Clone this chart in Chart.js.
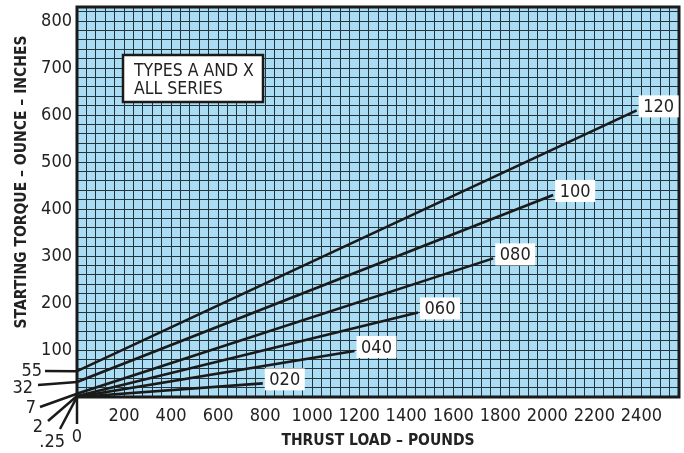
<!DOCTYPE html>
<html>
<head>
<meta charset="utf-8">
<script src="https://cdn.jsdelivr.net/npm/chart.js@4.4.1/dist/chart.umd.min.js"></script>
<style>
  html, body { margin: 0; padding: 0; background: #fff; }
</style>
</head>
<body>
<canvas id="chart" width="684" height="453"></canvas>
<script>
// Series (unit sizes) - each one is a straight line from its start torque to its end point
const seriesNames = ["120", "100", "080", "060", "040", "020"];
const startTorque = [55, 32, 7, 2, 0.25, 0];
const startLabels = ["55", "32", "7", "2", ".25", "0"];
const endLoad = [2380, 2025, 1770, 1450, 1180, 790];
const endTorque = [610, 430, 295, 180, 98, 29];

// Axis labels
const xTickLabels = [200, 400, 600, 800, 1000, 1200, 1400, 1600, 1800, 2000, 2200, 2400];
const yTickLabels = [100, 200, 300, 400, 500, 600, 700, 800];

const FONT = '"Liberation Sans Narrow", "Arial Narrow", "DejaVu Sans Condensed", sans-serif';
const INK = "#1a1a1a";

// grid steps of the graph paper
const xGrid = [];
for (let v = 0; v <= 2560; v += 40) xGrid.push({ value: v });
const yGrid = [];
for (let v = 0; v <= 820; v += 20) yGrid.push({ value: v });

// where the start-torque callouts sit, relative to the origin corner
const callouts = [
    { sx: -32, sy: -26, lx: -35, ly: -26, align: "right" },
    { sx: -39, sy: -12, lx: -44, ly: -9, align: "right" },
    { sx: -37, sy: 10, lx: -41, ly: 11, align: "right" },
    { sx: -29, sy: 24, lx: -34, ly: 30, align: "right" },
    { sx: -17, sy: 32, lx: -12, ly: 45, align: "right" },
    { sx: 0, sy: 27, lx: 0, ly: 40, align: "center" }
];

const paperPlugin = {
    id: "paper",
    beforeDraw(chart) {
        const { ctx, chartArea: a } = chart;
        ctx.save();
        ctx.fillStyle = "#aadcf3";
        ctx.fillRect(a.left, a.top, a.right - a.left, a.bottom - a.top);
        ctx.restore();
    },
    afterDraw(chart) {
        const { ctx, chartArea: a } = chart;
        const xs = chart.scales.x, ys = chart.scales.y;
        ctx.save();

        // frame
        ctx.strokeStyle = INK;
        ctx.lineWidth = 3;
        ctx.strokeRect(a.left, a.top, a.right - a.left, a.bottom - a.top);

        // series tags at line ends
        ctx.font = "18px " + FONT;
        ctx.textAlign = "center";
        ctx.textBaseline = "middle";
        seriesNames.forEach((name, i) => {
            const px = xs.getPixelForValue(endLoad[i]);
            const py = ys.getPixelForValue(endTorque[i]);
            ctx.fillStyle = "#fff";
            ctx.fillRect(px + 2, py - 15, 40, 22);
            ctx.fillStyle = "#222";
            ctx.fillText(name, px + 22, py - 3);
        });

        // start torque callouts
        ctx.lineWidth = 2.5;
        ctx.strokeStyle = INK;
        seriesNames.forEach((name, i) => {
            const c = callouts[i];
            const ex = xs.getPixelForValue(0);
            const ey = ys.getPixelForValue(startTorque[i]);
            ctx.beginPath();
            ctx.moveTo(a.left + c.sx, a.bottom + c.sy);
            ctx.lineTo(ex, ey);
            ctx.stroke();
            ctx.fillStyle = "#222";
            ctx.textAlign = c.align;
            ctx.fillText(startLabels[i], a.left + c.lx, a.bottom + c.ly);
        });

        // note box
        ctx.fillStyle = "#fff";
        ctx.fillRect(123, 55, 140, 47);
        ctx.lineWidth = 2.5;
        ctx.strokeRect(123, 55, 140, 47);
        ctx.fillStyle = "#222";
        ctx.textAlign = "left";
        ctx.font = "17.5px " + FONT;
        ctx.fillText("TYPES A AND X", 134, 71);
        ctx.fillText("ALL SERIES", 134, 89);

        // y axis title
        ctx.translate(22, 182);
        ctx.rotate(-Math.PI / 2);
        ctx.textAlign = "center";
        ctx.font = "bold 15.5px " + FONT;
        ctx.fillText("STARTING TORQUE \u2013 OUNCE \u2013 INCHES", 0, 0);
        ctx.restore();
    }
};

const ctx = document.getElementById("chart").getContext("2d");

new Chart(ctx, {
    type: "scatter",
    data: {
        datasets: seriesNames.map((name, i) => ({
            label: name,
            data: [
                { x: 0, y: startTorque[i] },
                { x: endLoad[i], y: endTorque[i] }
            ],
            showLine: true,
            borderColor: INK,
            borderWidth: 2.6,
            pointRadius: 0
        }))
    },
    options: {
        responsive: false,
        animation: false,
        layout: { padding: { left: 0, top: 7, right: 5, bottom: 0 } },
        plugins: {
            legend: { display: false },
            tooltip: { enabled: false }
        },
        scales: {
            x: {
                type: "linear",
                min: 0,
                max: 2560,
                afterBuildTicks: (scale) => { scale.ticks = xGrid.slice(); },
                afterFit: (scale) => {
                    scale.height = 56;
                    scale.paddingLeft = 0;
                    scale.paddingRight = 0;
                },
                ticks: {
                    autoSkip: false,
                    maxRotation: 0,
                    padding: 9,
                    color: "#222",
                    font: { family: FONT, size: 18 },
                    callback: (v) => xTickLabels.includes(v) ? String(v) : ""
                },
                grid: { color: "#24343c", lineWidth: 1, drawTicks: false },
                border: { display: false },
                title: {
                    display: true,
                    text: "THRUST LOAD \u2013 POUNDS",
                    color: "#222",
                    font: { family: FONT, size: 15.5, weight: "bold" },
                    padding: { top: 0, bottom: 3 }
                }
            },
            y: {
                type: "linear",
                min: 0,
                max: 830,
                afterBuildTicks: (scale) => { scale.ticks = yGrid.slice(); },
                afterFit: (scale) => {
                    scale.width = 77;
                    scale.paddingTop = 0;
                    scale.paddingBottom = 0;
                },
                ticks: {
                    autoSkip: false,
                    padding: 5,
                    color: "#222",
                    font: { family: FONT, size: 18 },
                    callback: (v) => yTickLabels.includes(v) ? String(v) : ""
                },
                grid: { color: "#24343c", lineWidth: 1, drawTicks: false },
                border: { display: false }
            }
        }
    },
    plugins: [paperPlugin]
});
</script>
</body>
</html>
